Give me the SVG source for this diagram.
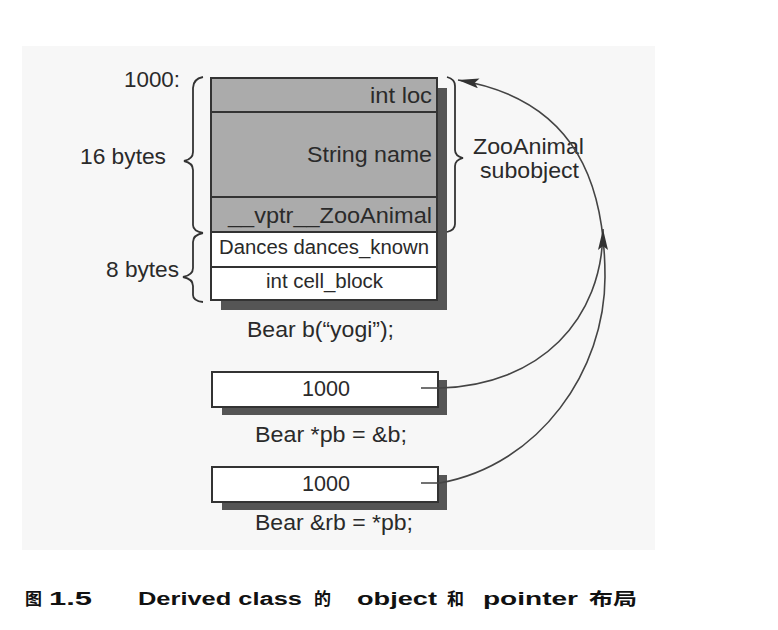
<svg xmlns="http://www.w3.org/2000/svg" width="778" height="630" viewBox="0 0 778 630">
<defs>
<style>
.t{font-family:"Liberation Sans",Arial,sans-serif;fill:#2a2a2a;font-size:22px}
.s{font-size:20px}
.cap{font-family:"Liberation Sans",Arial,"Noto Sans CJK SC",sans-serif;font-weight:bold;font-size:18px;fill:#111}
.cjk{font-size:17px}
.box{stroke:#333;stroke-width:2}
.gray{fill:#ababab}
.white{fill:#fff}
.shadow{fill:#555}
.brace{fill:none;stroke:#333;stroke-width:1.8}
.conn{fill:none;stroke:#444;stroke-width:1.6}
</style>
<marker id="ah" markerUnits="userSpaceOnUse" markerWidth="22" markerHeight="10" refX="21" refY="5" orient="auto">
<path d="M0,0 L21,5 L0,10 L4,5 z" fill="#333"/>
</marker>
</defs>
<rect x="0" y="0" width="778" height="630" fill="#fff"/>
<rect x="22" y="46" width="633" height="504" fill="#f7f7f7"/>

<g id="bear-object">
<rect class="shadow" x="221" y="88" width="226" height="222"/>
<rect class="box gray" x="211" y="78" width="226" height="34"/>
<rect class="box gray" x="211" y="112" width="226" height="85"/>
<rect class="box gray" x="211" y="197" width="226" height="35"/>
<rect class="box white" x="211" y="232" width="226" height="35"/>
<rect class="box white" x="211" y="267" width="226" height="33"/>
<text class="t" x="370" y="103" textLength="62" lengthAdjust="spacingAndGlyphs">int loc</text>
<text class="t" x="307" y="162" textLength="125" lengthAdjust="spacingAndGlyphs">String name</text>
<text class="t" x="228" y="223" textLength="204" lengthAdjust="spacingAndGlyphs">__vptr__ZooAnimal</text>
<text class="t s" x="219" y="254" textLength="210" lengthAdjust="spacingAndGlyphs">Dances dances_known</text>
<text class="t s" x="266" y="288" textLength="117" lengthAdjust="spacingAndGlyphs">int cell_block</text>
<text class="t" x="247" y="337" textLength="147" lengthAdjust="spacingAndGlyphs">Bear b(“yogi”);</text>
</g>

<g id="left-labels">
<text class="t" x="124" y="87" textLength="56" lengthAdjust="spacingAndGlyphs">1000:</text>
<text class="t" x="80" y="164" textLength="86" lengthAdjust="spacingAndGlyphs">16 bytes</text>
<text class="t" x="106" y="277" textLength="73" lengthAdjust="spacingAndGlyphs">8 bytes</text>
<path class="brace" d="M203,77 Q193,79 193,88 L193,152 Q193,159 184,161 Q193,163 193,170 L193,225 Q193,231 203,233"/>
<path class="brace" d="M203,233 Q193,235 193,242 L193,268 Q193,275 183,277 Q193,279 193,286 L193,295 Q193,301 203,302"/>
</g>

<g id="zooanimal-subobject">
<path class="brace" d="M447,77 Q455,79 455,86 L455,150 Q455,156 463,158 Q455,160 455,166 L455,224 Q455,230 447,232"/>
<text class="t" x="473" y="154" textLength="111" lengthAdjust="spacingAndGlyphs">ZooAnimal</text>
<text class="t" x="480" y="178" textLength="99" lengthAdjust="spacingAndGlyphs">subobject</text>
</g>

<g id="pb">
<rect class="shadow" x="222" y="380" width="225" height="35"/>
<rect class="box white" x="212" y="372" width="226" height="35"/>
<text class="t" x="302" y="396" textLength="48" lengthAdjust="spacingAndGlyphs">1000</text>
<text class="t" x="255" y="442" textLength="152" lengthAdjust="spacingAndGlyphs">Bear *pb = &amp;b;</text>
</g>

<g id="rb">
<rect class="shadow" x="222" y="475" width="225" height="35"/>
<rect class="box white" x="212" y="467" width="226" height="35"/>
<text class="t" x="302" y="491" textLength="48" lengthAdjust="spacingAndGlyphs">1000</text>
<text class="t" x="255" y="530" textLength="158" lengthAdjust="spacingAndGlyphs">Bear &amp;rb = *pb;</text>
</g>

<g id="connectors">
<path class="conn" d="M421,483 L440,483 C540,465 605,370 605,277 C605,190 580,100 458,80" marker-end="url(#ah)"/>
<path class="conn" d="M421,388 L440,388 C540,385 603,320 603,229" marker-end="url(#ah)"/>
</g>

<g id="caption">
<text class="cap cjk" x="25" y="605">图</text>
<text class="cap" x="49" y="605" textLength="43" lengthAdjust="spacingAndGlyphs">1.5</text>
<text class="cap" x="138" y="605" textLength="164" lengthAdjust="spacingAndGlyphs">Derived class</text>
<text class="cap cjk" x="314" y="605">的</text>
<text class="cap" x="357" y="605" textLength="80" lengthAdjust="spacingAndGlyphs">object</text>
<text class="cap cjk" x="447" y="605">和</text>
<text class="cap" x="483" y="605" textLength="95" lengthAdjust="spacingAndGlyphs">pointer</text>
<text class="cap cjk" x="589" y="605" textLength="48" lengthAdjust="spacingAndGlyphs">布局</text>
</g>
</svg>
